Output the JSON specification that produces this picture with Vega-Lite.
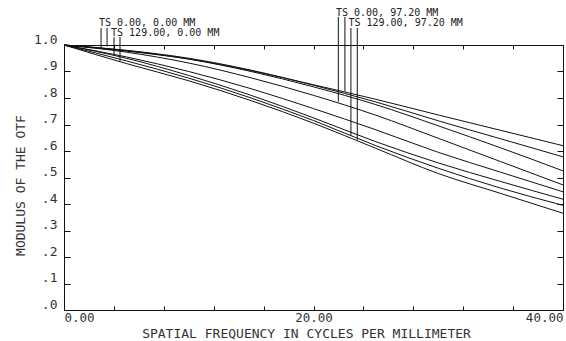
{
  "$schema": "https://vega.github.io/schema/vega-lite/v6.json",
  "width": 499,
  "height": 265,
  "autosize": {"type": "none"},
  "padding": {"left": 64, "top": 45, "right": 3, "bottom": 31},
  "background": "white",
  "config": {
    "view": {"stroke": "#111", "strokeWidth": 1},
    "font": "DejaVu Sans Mono",
    "axis": {"grid": false, "domain": false, "labelFont": "DejaVu Sans Mono", "titleFont": "DejaVu Sans Mono", "labelColor": "#333", "titleColor": "#333", "titleFontWeight": "normal", "tickColor": "#111", "labelFontSize": 12.5, "titleFontSize": 13}
  },
  "datasets": {
    "curves": [
      {"f": 0, "m": 1.0, "c": "c1"}, {"f": 5, "m": 0.977, "c": "c1"}, {"f": 10, "m": 0.947, "c": "c1"}, {"f": 15, "m": 0.903, "c": "c1"}, {"f": 20, "m": 0.85, "c": "c1"}, {"f": 25, "m": 0.795, "c": "c1"}, {"f": 30, "m": 0.736, "c": "c1"}, {"f": 35, "m": 0.678, "c": "c1"}, {"f": 40, "m": 0.62, "c": "c1"},
      {"f": 0, "m": 1.0, "c": "c2"}, {"f": 5, "m": 0.98, "c": "c2"}, {"f": 10, "m": 0.95, "c": "c2"}, {"f": 15, "m": 0.905, "c": "c2"}, {"f": 20, "m": 0.848, "c": "c2"}, {"f": 25, "m": 0.785, "c": "c2"}, {"f": 30, "m": 0.714, "c": "c2"}, {"f": 35, "m": 0.646, "c": "c2"}, {"f": 40, "m": 0.578, "c": "c2"},
      {"f": 0, "m": 1.0, "c": "c3"}, {"f": 5, "m": 0.979, "c": "c3"}, {"f": 10, "m": 0.947, "c": "c3"}, {"f": 15, "m": 0.9, "c": "c3"}, {"f": 20, "m": 0.842, "c": "c3"}, {"f": 25, "m": 0.775, "c": "c3"}, {"f": 30, "m": 0.695, "c": "c3"}, {"f": 35, "m": 0.612, "c": "c3"}, {"f": 40, "m": 0.525, "c": "c3"},
      {"f": 0, "m": 1.0, "c": "c4"}, {"f": 5, "m": 0.973, "c": "c4"}, {"f": 10, "m": 0.932, "c": "c4"}, {"f": 15, "m": 0.876, "c": "c4"}, {"f": 20, "m": 0.81, "c": "c4"}, {"f": 25, "m": 0.735, "c": "c4"}, {"f": 30, "m": 0.648, "c": "c4"}, {"f": 35, "m": 0.56, "c": "c4"}, {"f": 40, "m": 0.472, "c": "c4"},
      {"f": 0, "m": 1.0, "c": "c5"}, {"f": 5, "m": 0.955, "c": "c5"}, {"f": 10, "m": 0.9, "c": "c5"}, {"f": 15, "m": 0.835, "c": "c5"}, {"f": 20, "m": 0.76, "c": "c5"}, {"f": 25, "m": 0.68, "c": "c5"}, {"f": 30, "m": 0.595, "c": "c5"}, {"f": 35, "m": 0.52, "c": "c5"}, {"f": 40, "m": 0.446, "c": "c5"},
      {"f": 0, "m": 1.0, "c": "c6"}, {"f": 5, "m": 0.95, "c": "c6"}, {"f": 10, "m": 0.885, "c": "c6"}, {"f": 15, "m": 0.81, "c": "c6"}, {"f": 20, "m": 0.725, "c": "c6"}, {"f": 25, "m": 0.635, "c": "c6"}, {"f": 30, "m": 0.555, "c": "c6"}, {"f": 35, "m": 0.485, "c": "c6"}, {"f": 40, "m": 0.418, "c": "c6"},
      {"f": 0, "m": 1.0, "c": "c7"}, {"f": 5, "m": 0.94, "c": "c7"}, {"f": 10, "m": 0.875, "c": "c7"}, {"f": 15, "m": 0.8, "c": "c7"}, {"f": 20, "m": 0.715, "c": "c7"}, {"f": 25, "m": 0.62, "c": "c7"}, {"f": 30, "m": 0.535, "c": "c7"}, {"f": 35, "m": 0.46, "c": "c7"}, {"f": 40, "m": 0.395, "c": "c7"},
      {"f": 0, "m": 1.0, "c": "c8"}, {"f": 5, "m": 0.93, "c": "c8"}, {"f": 10, "m": 0.865, "c": "c8"}, {"f": 15, "m": 0.79, "c": "c8"}, {"f": 20, "m": 0.705, "c": "c8"}, {"f": 25, "m": 0.61, "c": "c8"}, {"f": 30, "m": 0.515, "c": "c8"}, {"f": 35, "m": 0.44, "c": "c8"}, {"f": 40, "m": 0.365, "c": "c8"}
    ],
    "leaders": [
      {"f": 2.97, "top": 1.064, "bottom": 0.988},
      {"f": 3.45, "top": 1.064, "bottom": 0.994},
      {"f": 4.01, "top": 1.03, "bottom": 0.962},
      {"f": 4.49, "top": 1.03, "bottom": 0.937},
      {"f": 21.99, "top": 1.106, "bottom": 0.786},
      {"f": 22.52, "top": 1.106, "bottom": 0.824},
      {"f": 23.0, "top": 1.064, "bottom": 0.66},
      {"f": 23.51, "top": 1.064, "bottom": 0.642}
    ],
    "labels": [
      {"f": 2.8, "m": 1.072, "text": "TS 0.00, 0.00 MM"},
      {"f": 3.77, "m": 1.034, "text": "TS 129.00, 0.00 MM"},
      {"f": 21.8, "m": 1.109, "text": "TS 0.00, 97.20 MM"},
      {"f": 22.8, "m": 1.072, "text": "TS 129.00, 97.20 MM"}
    ]
  },
  "layer": [
    {
      "data": {"name": "curves"},
      "mark": {"type": "line", "interpolate": "monotone", "color": "#111", "strokeWidth": 1},
      "encoding": {
        "x": {"field": "f", "type": "quantitative", "scale": {"domain": [0, 40], "nice": false, "zero": false},
              "axis": {"orient": "bottom", "values": [0, 4, 8, 12, 16, 20, 24, 28, 32, 36, 40], "labelExpr": "datum.value % 20 == 0 ? format(datum.value, '.2f') : ''", "labelFlush": true, "tickSize": -4, "labelPadding": 5, "title": "SPATIAL FREQUENCY IN CYCLES PER MILLIMETER", "titleX": 242, "titleY": 27, "titleBaseline": "alphabetic", "titleAnchor": "middle"}},
        "y": {"field": "m", "type": "quantitative", "scale": {"domain": [0, 1], "nice": false, "zero": false},
              "axis": {"orient": "left", "values": [0, 0.1, 0.2, 0.3, 0.4, 0.5, 0.6, 0.7, 0.8, 0.9, 1.0], "labelExpr": "datum.value == 1 ? '1.0' : replace(format(datum.value, '.1f'), '0.', '.')", "labelFontSize": 13, "tickSize": -6, "labelPadding": 13, "labelBaseline": "alphabetic", "labelOffset": -2, "title": "MODULUS OF THE OTF", "titleX": -44, "titleY": 140, "titleAngle": -90, "titleBaseline": "middle", "titleAnchor": "middle"}},
        "detail": {"field": "c"},
        "strokeWidth": {"condition": {"test": "datum.c == 'c3' || datum.c == 'c6'", "value": 1.6}, "value": 1}
      }
    },
    {
      "data": {"name": "leaders"},
      "mark": {"type": "rule", "color": "#111", "strokeWidth": 1},
      "encoding": {
        "x": {"field": "f", "type": "quantitative", "scale": {"domain": [0, 40], "nice": false, "zero": false},
              "axis": {"orient": "top", "values": [0, 4, 8, 12, 16, 20, 24, 28, 32, 36, 40], "labels": false, "tickSize": -4, "title": null}},
        "y": {"field": "top", "type": "quantitative", "scale": {"domain": [0, 1], "nice": false, "zero": false},
              "axis": {"orient": "right", "values": [0, 0.1, 0.2, 0.3, 0.4, 0.5, 0.6, 0.7, 0.8, 0.9, 1.0], "labels": false, "tickSize": -6, "title": null}},
        "y2": {"field": "bottom"}
      }
    },
    {
      "data": {"name": "labels"},
      "mark": {"type": "text", "align": "left", "baseline": "alphabetic", "font": "DejaVu Sans Mono", "fontSize": 10, "color": "#222"},
      "encoding": {
        "x": {"field": "f", "type": "quantitative", "scale": {"domain": [0, 40], "nice": false, "zero": false}, "axis": null},
        "y": {"field": "m", "type": "quantitative", "scale": {"domain": [0, 1], "nice": false, "zero": false}, "axis": null},
        "text": {"field": "text"}
      }
    }
  ],
  "resolve": {"axis": {"x": "independent", "y": "independent"}}
}
